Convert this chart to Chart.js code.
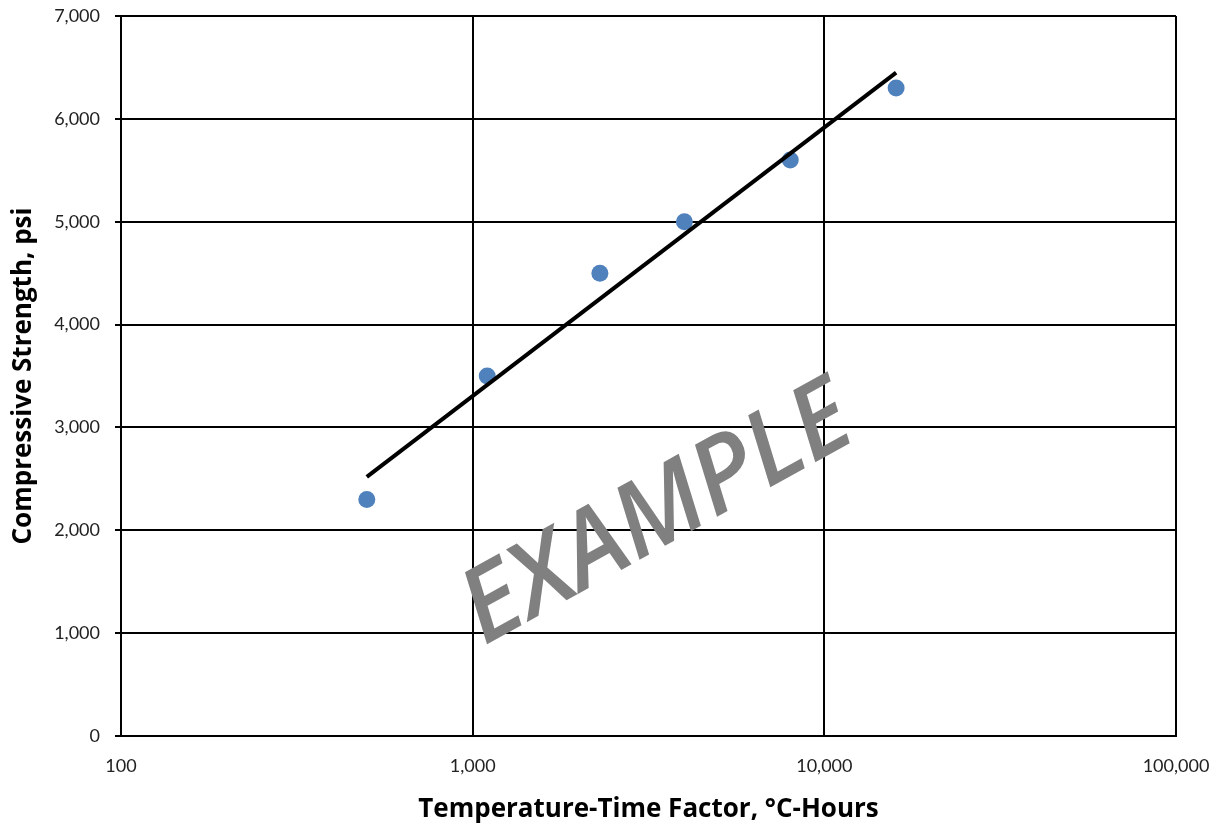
<!DOCTYPE html>
<html>
<head>
<meta charset="utf-8">
<script src="https://cdn.jsdelivr.net/npm/chart.js@4"></script>
<style>
  html, body { margin: 0; padding: 0; background: #ffffff; }
  canvas { display: block; }
</style>
</head>
<body>
<canvas id="c" width="1224" height="827"></canvas>
<script>
// ---- data ----
const timeTempFactor = [500, 1100, 2300, 4000, 8000, 16000];   // °C-Hours
const strengthPsi    = [2300, 3500, 4500, 5000, 5600, 6300];   // psi
const trendX = [500, 16000];
const trendY = [2520, 6450];
const xTickValues = [100, 1000, 10000, 100000];
const yTickValues = [0, 1000, 2000, 3000, 4000, 5000, 6000, 7000];
const xTitle = 'Temperature-Time Factor, °C-Hours';
const yTitle = 'Compressive Strength, psi';
const watermark = 'EXAMPLE';

const FONT = 'Lato, "Open Sans", "Liberation Sans", sans-serif';
const TITLE_FONT = '"Open Sans", Lato, "Liberation Sans", sans-serif';

const watermarkPlugin = {
  id: 'watermark',
  afterDraw(chart) {
    const ctx = chart.ctx;
    ctx.save();
    ctx.font = 'italic 600 100px "Open Sans", Lato, sans-serif';
    const w = ctx.measureText(watermark).width;
    const size = 100 * 430 / w;
    ctx.font = 'italic 600 ' + size.toFixed(1) + 'px "Open Sans", Lato, sans-serif';
    ctx.translate(484, 646);
    ctx.rotate(-29 * Math.PI / 180);
    ctx.fillStyle = '#808080';
    ctx.textBaseline = 'alphabetic';
    ctx.textAlign = 'left';
    ctx.fillText(watermark, 0, 0);
    ctx.restore();
  }
};

function noOverhang(scale) {
  scale.paddingTop = 0;
  scale.paddingBottom = 0;
  scale.paddingLeft = 0;
  scale.paddingRight = 0;
}

new Chart(document.getElementById('c'), {
  type: 'scatter',
  data: {
    datasets: [
      {
        type: 'line',
        label: 'Trend',
        data: trendX.map((x, i) => ({ x: x, y: trendY[i] })),
        borderColor: '#000000',
        borderWidth: 4,
        pointRadius: 0,
        fill: false,
        order: 0
      },
      {
        label: 'Strength',
        data: timeTempFactor.map((x, i) => ({ x: x, y: strengthPsi[i] })),
        backgroundColor: '#4F81BD',
        borderColor: '#4F81BD',
        pointRadius: 8.5,
        pointBorderWidth: 0,
        order: 1
      }
    ]
  },
  options: {
    responsive: false,
    animation: false,
    devicePixelRatio: 1,
    layout: { padding: { top: 16, right: 48, left: 0, bottom: 0 } },
    plugins: {
      legend: { display: false },
      tooltip: { enabled: false }
    },
    scales: {
      x: {
        type: 'logarithmic',
        min: 100,
        max: 100000,
        afterBuildTicks(scale) { scale.ticks = xTickValues.map(v => ({ value: v })); },
        afterFit(scale) { scale.height = 91; noOverhang(scale); },
        grid: { color: '#000000', lineWidth: 2, drawTicks: false },
        border: { color: '#000000', width: 2 },
        ticks: {
          padding: 19,
          autoSkip: false,
          maxRotation: 0,
          color: '#222222',
          font: { family: FONT, size: 18 },
          callback: (v) => Number(v).toLocaleString('en-US')
        },
        title: {
          display: true,
          text: xTitle,
          color: '#000000',
          font: { family: TITLE_FONT, size: 26, weight: 'bold' },
          padding: { top: 0, bottom: 2 }
        }
      },
      y: {
        min: 0,
        max: 7000,
        afterBuildTicks(scale) { scale.ticks = yTickValues.map(v => ({ value: v })); },
        afterFit(scale) { scale.width = 121; noOverhang(scale); },
        grid: { color: '#000000', lineWidth: 2, tickLength: 6 },
        border: { color: '#000000', width: 2 },
        ticks: {
          padding: 15,
          color: '#222222',
          font: { family: FONT, size: 18 },
          callback: (v) => Number(v).toLocaleString('en-US')
        },
        title: {
          display: true,
          text: yTitle,
          color: '#000000',
          font: { family: TITLE_FONT, size: 26, weight: 'bold' },
          padding: { top: 8, bottom: 0 }
        }
      }
    }
  },
  plugins: [watermarkPlugin]
});
</script>
</body>
</html>
